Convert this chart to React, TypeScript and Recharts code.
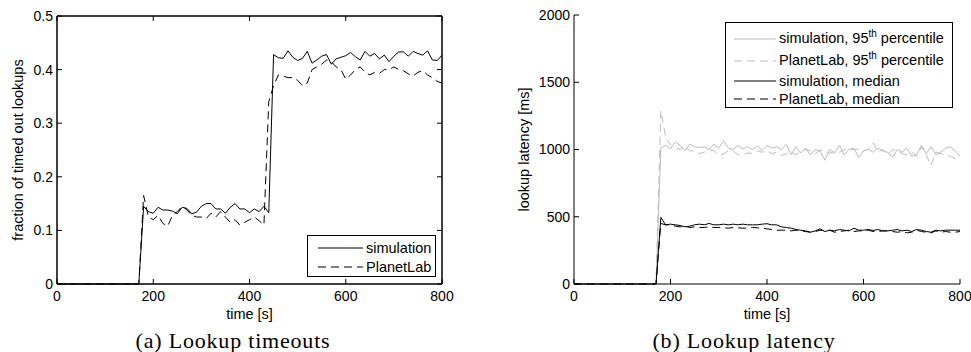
import React from 'react';
import { LineChart, Line, XAxis, YAxis, Legend, Label, ReferenceArea } from 'recharts';

// time axis: zero until the churn starts, then one sample every 10 s
const times = [
  0,
  170, 180, 190, 200, 210, 220, 230, 240, 250, 260,
  270, 280, 290, 300, 310, 320, 330, 340, 350, 360,
  370, 380, 390, 400, 410, 420, 430, 440, 450, 460,
  470, 480, 490, 500, 510, 520, 530, 540, 550, 560,
  570, 580, 590, 600, 610, 620, 630, 640, 650, 660,
  670, 680, 690, 700, 710, 720, 730, 740, 750, 760,
  770, 780, 790, 800,
];

// (a) fraction of timed out lookups
const simTimeouts = [
  0,
  0, 0.145, 0.135, 0.132, 0.143, 0.138, 0.138, 0.136, 0.131, 0.143,
  0.141, 0.131, 0.134, 0.145, 0.15, 0.15, 0.14, 0.14, 0.132, 0.143,
  0.15, 0.14, 0.14, 0.133, 0.14, 0.135, 0.145, 0.133, 0.428, 0.422,
  0.421, 0.435, 0.423, 0.417, 0.421, 0.434, 0.412, 0.418, 0.425, 0.428,
  0.41, 0.42, 0.423, 0.426, 0.432, 0.424, 0.418, 0.434, 0.425, 0.43,
  0.42, 0.427, 0.415, 0.425, 0.433, 0.433, 0.425, 0.434, 0.43, 0.427,
  0.435, 0.418, 0.417, 0.427,
];
const planetLabTimeouts = [
  0,
  0, 0.165, 0.125, 0.12, 0.128, 0.113, 0.108, 0.128, 0.135, 0.145,
  0.138, 0.128, 0.125, 0.125, 0.122, 0.132, 0.125, 0.135, 0.125, 0.115,
  0.12, 0.11, 0.115, 0.12, 0.125, 0.118, 0.11, 0.34, 0.37, 0.39,
  0.388, 0.385, 0.385, 0.38, 0.37, 0.375, 0.4, 0.405, 0.41, 0.418,
  0.415, 0.405, 0.4, 0.382, 0.39, 0.4, 0.405, 0.395, 0.39, 0.395,
  0.393, 0.4, 0.4, 0.405, 0.4, 0.398, 0.392, 0.388, 0.395, 0.398,
  0.39, 0.385, 0.378, 0.375,
];

// (b) lookup latency [ms]
const sim95 = [
  0,
  0, 1010, 1030, 1005, 1055, 1030, 990, 1040, 1020, 1015,
  1020, 1000, 1040, 1010, 1065, 1010, 1000, 1030, 1005, 1020,
  1000, 1025, 995, 1030, 1010, 1020, 1000, 1040, 960, 1020,
  975, 1010, 960, 1000, 990, 920, 1000, 970, 1030, 960,
  1000, 1010, 940, 990, 1000, 980, 1010, 990, 980, 940,
  1000, 980, 1010, 950, 960, 1030, 970, 1020, 960, 980,
  1010, 1020, 990, 950,
];
const planetLab95 = [
  0,
  0, 1290, 1090, 1030, 1010, 1000, 1030, 990, 990, 970,
  980, 1000, 990, 960, 965, 990, 990, 960, 960, 975,
  970, 990, 980, 990, 970, 980, 955, 970, 980, 960,
  990, 1000, 990, 970, 995, 990, 970, 990, 980, 1000,
  990, 1000, 1005, 990, 1000, 1050, 980, 1000, 960, 1000,
  990, 970, 960, 980, 950, 1020, 960, 880, 980, 970,
  960, 950, 930, 920,
];
const simMedian = [
  0,
  0, 495, 440, 445, 440, 435, 425, 430, 440, 445,
  440, 450, 440, 440, 445, 440, 445, 440, 445, 440,
  440, 440, 445, 448, 440, 440, 425, 420, 415, 405,
  400, 395, 385, 395, 410, 390, 400, 395, 405, 400,
  395, 415, 400, 400, 405, 398, 405, 395, 395, 400,
  405, 395, 400, 390, 405, 400, 390, 385, 400, 395,
  400, 400, 400, 400,
];
const planetLabMedian = [
  0,
  0, 450, 440, 440, 430, 425, 430, 420, 425, 420,
  420, 425, 420, 420, 418, 415, 420, 418, 415, 415,
  420, 418, 415, 410, 405, 400, 400, 400, 395, 400,
  395, 390, 385, 390, 400, 395, 400, 385, 390, 395,
  400, 390, 395, 395, 400, 390, 390, 395, 395, 390,
  385, 390, 380, 385, 400, 390, 385, 380, 395, 385,
  390, 385, 385, 390,
];

const timeTicks = [0, 200, 400, 600, 800];
const timeoutTicks = [0, 0.1, 0.2, 0.3, 0.4, 0.5];
const latencyTicks = [0, 500, 1000, 1500, 2000];

const timeoutNames = ['simulation', 'PlanetLab'];
const latencyNames = [
  'simulation, 95th percentile',
  'PlanetLab, 95th percentile',
  'simulation, median',
  'PlanetLab, median',
];

const SANS = '"Liberation Sans", Arial, Helvetica, sans-serif';
const SERIF = '"Liberation Serif", "Times New Roman", serif';
const GRAY = '#bdbdbd';
const DASH = '8 5';

const timeoutData = times.map((t, i) => ({ t, sim: simTimeouts[i], planetLab: planetLabTimeouts[i] }));
const latencyData = times.map((t, i) => ({
  t,
  sim95: sim95[i],
  pl95: planetLab95[i],
  simMed: simMedian[i],
  plMed: planetLabMedian[i],
}));

const tickStyle = { fontFamily: SANS, fontSize: 14, fill: '#000' };
const noLabel = () => '';

// "95th" -> 95 with a raised "th"
function withSup(name: string) {
  const parts = name.split(/(\d+)th/);
  return parts.map((p, i) =>
    i % 2 === 1 ? (
      <React.Fragment key={i}>
        {p}
        <span style={{ fontSize: 10, position: 'relative', top: -6 }}>th</span>
      </React.Fragment>
    ) : (
      <React.Fragment key={i}>{p}</React.Fragment>
    )
  );
}

type BoxOpts = { width: number; height: number; padTop: number; padLeft: number; sample: number; rows: number[] };

const legendBox = (box: BoxOpts, order: string[]) => (props: any) => {
  const items = [...(props.payload || [])].sort(
    (a: any, b: any) => order.indexOf(String(a.value)) - order.indexOf(String(b.value))
  );
  return (
    <div
      style={{
        width: box.width,
        height: box.height,
        boxSizing: 'border-box',
        border: '1px solid #000',
        background: '#fff',
        paddingTop: box.padTop,
        paddingLeft: box.padLeft,
      }}
    >
      {items.map((entry: any, i: number) => (
        <div key={i} style={{ display: 'flex', alignItems: 'center', height: box.rows[i] }}>
          <svg width={box.sample} height={4} style={{ marginRight: 3, flex: 'none' }}>
            <line
              x1={0}
              y1={2}
              x2={box.sample}
              y2={2}
              stroke={entry.color}
              strokeDasharray={entry.payload?.strokeDasharray}
            />
          </svg>
          <span style={{ fontFamily: SANS, fontSize: 14.5, lineHeight: '14px', color: '#000', whiteSpace: 'nowrap' }}>
            {withSup(String(entry.value))}
          </span>
        </div>
      ))}
    </div>
  );
};

const yTitle = (text: string, x: number) => (props: any) => {
  const vb = props.viewBox || { y: 15, height: 269 };
  const cy = vb.y + vb.height / 2;
  return (
    <text
      x={x}
      y={cy}
      transform={`rotate(-90 ${x} ${cy})`}
      textAnchor="middle"
      dominantBaseline="central"
      style={{ fontFamily: SANS, fontSize: 14.5, fill: '#000' }}
    >
      {text}
    </text>
  );
};

const Caption = ({ text, cx }: { text: string; cx: number }) => (
  <div
    style={{
      position: 'absolute',
      left: cx - 150,
      width: 300,
      top: 330,
      textAlign: 'center',
      fontFamily: SERIF,
      fontSize: 22,
      lineHeight: '22px',
      letterSpacing: 0.8,
      color: '#000',
    }}
  >
    {text}
  </div>
);

const TimeoutChart = () => (
  <LineChart width={485} height={352} data={timeoutData} margin={{ top: 15, right: 42, bottom: 38, left: 12 }}>
    <XAxis
      dataKey="t"
      type="number"
      domain={[0, 800]}
      ticks={timeTicks}
      interval={0}
      height={30}
      stroke="#000"
      tickSize={-5}
      tickMargin={12}
      tick={tickStyle}
    >
      <Label value="time [s]" position="bottom" offset={-5} style={{ fontFamily: SANS, fontSize: 14.5, fill: '#000' }} />
    </XAxis>
    <XAxis
      xAxisId="top"
      orientation="top"
      dataKey="t"
      type="number"
      domain={[0, 800]}
      allowDataOverflow
      ticks={timeTicks}
      interval={0}
      height={1}
      stroke="#000"
      tickSize={-5}
      tickFormatter={noLabel}
    />
    <YAxis
      type="number"
      domain={[0, 0.5]}
      ticks={timeoutTicks}
      interval={0}
      width={45}
      stroke="#000"
      tickSize={-5}
      tickMargin={9}
      tick={tickStyle}
    >
      <Label content={yTitle('fraction of timed out lookups', 18)} />
    </YAxis>
    <YAxis
      yAxisId="right"
      orientation="right"
      type="number"
      domain={[0, 0.5]}
      allowDataOverflow
      ticks={timeoutTicks}
      interval={0}
      width={1}
      stroke="#000"
      tickSize={-5}
      tickFormatter={noLabel}
    />
    {/* closed MATLAB-style box round the plot */}
    <ReferenceArea x1={0} x2={800} y1={0} y2={0.5} fill="none" stroke="#000" strokeWidth={1} ifOverflow="visible" />
    <Legend
      layout="vertical"
      align="center"
      verticalAlign="middle"
      wrapperStyle={{ left: 307, top: 235, width: 'auto' }}
      content={legendBox({ width: 129, height: 42, padTop: 2, padLeft: 10, sample: 45, rows: [19, 19] }, timeoutNames)}
    />
    <Line
      dataKey="sim"
      name={timeoutNames[0]}
      stroke="#000"
      strokeWidth={1}
      dot={false}
      activeDot={false}
      isAnimationActive={false}
    />
    <Line
      dataKey="planetLab"
      name={timeoutNames[1]}
      stroke="#000"
      strokeWidth={1}
      strokeDasharray={DASH}
      dot={false}
      activeDot={false}
      isAnimationActive={false}
    />
  </LineChart>
);

const LatencyChart = () => (
  <LineChart width={485} height={352} data={latencyData} margin={{ top: 15, right: 11, bottom: 38, left: 38 }}>
    <XAxis
      dataKey="t"
      type="number"
      domain={[0, 800]}
      ticks={timeTicks}
      interval={0}
      height={30}
      stroke="#000"
      tickSize={-5}
      tickMargin={12}
      tick={tickStyle}
    >
      <Label value="time [s]" position="bottom" offset={-5} style={{ fontFamily: SANS, fontSize: 14.5, fill: '#000' }} />
    </XAxis>
    <YAxis
      type="number"
      domain={[0, 2000]}
      ticks={latencyTicks}
      interval={0}
      width={50}
      stroke="#000"
      tickSize={-5}
      tickMargin={9}
      tick={tickStyle}
    >
      <Label content={yTitle('lookup latency [ms]', 37.5)} />
    </YAxis>
    <Legend
      layout="vertical"
      align="center"
      verticalAlign="middle"
      wrapperStyle={{ left: 239, top: 22, width: 'auto' }}
      content={legendBox({ width: 228, height: 86, padTop: 5, padLeft: 8, sample: 42, rows: [22, 22, 18, 18] }, latencyNames)}
    />
    <Line dataKey="sim95" name={latencyNames[0]} stroke={GRAY} strokeWidth={1} dot={false} activeDot={false} isAnimationActive={false} />
    <Line dataKey="pl95" name={latencyNames[1]} stroke={GRAY} strokeWidth={1} strokeDasharray={DASH} dot={false} activeDot={false} isAnimationActive={false} />
    <Line dataKey="simMed" name={latencyNames[2]} stroke="#000" strokeWidth={1} dot={false} activeDot={false} isAnimationActive={false} />
    <Line dataKey="plMed" name={latencyNames[3]} stroke="#000" strokeWidth={1} strokeDasharray={DASH} dot={false} activeDot={false} isAnimationActive={false} />
  </LineChart>
);

export default function App() {
  return (
    <div style={{ position: 'absolute', left: 0, top: 0, width: 971, height: 352, background: '#fff', overflow: 'hidden' }}>
      <div style={{ position: 'absolute', left: 0, top: 0 }}>
        <TimeoutChart />
      </div>
      <div style={{ position: 'absolute', left: 486, top: 0 }}>
        <LatencyChart />
      </div>
      <Caption text="(a) Lookup timeouts" cx={233} />
      <Caption text="(b) Lookup latency" cx={744} />
    </div>
  );
}
